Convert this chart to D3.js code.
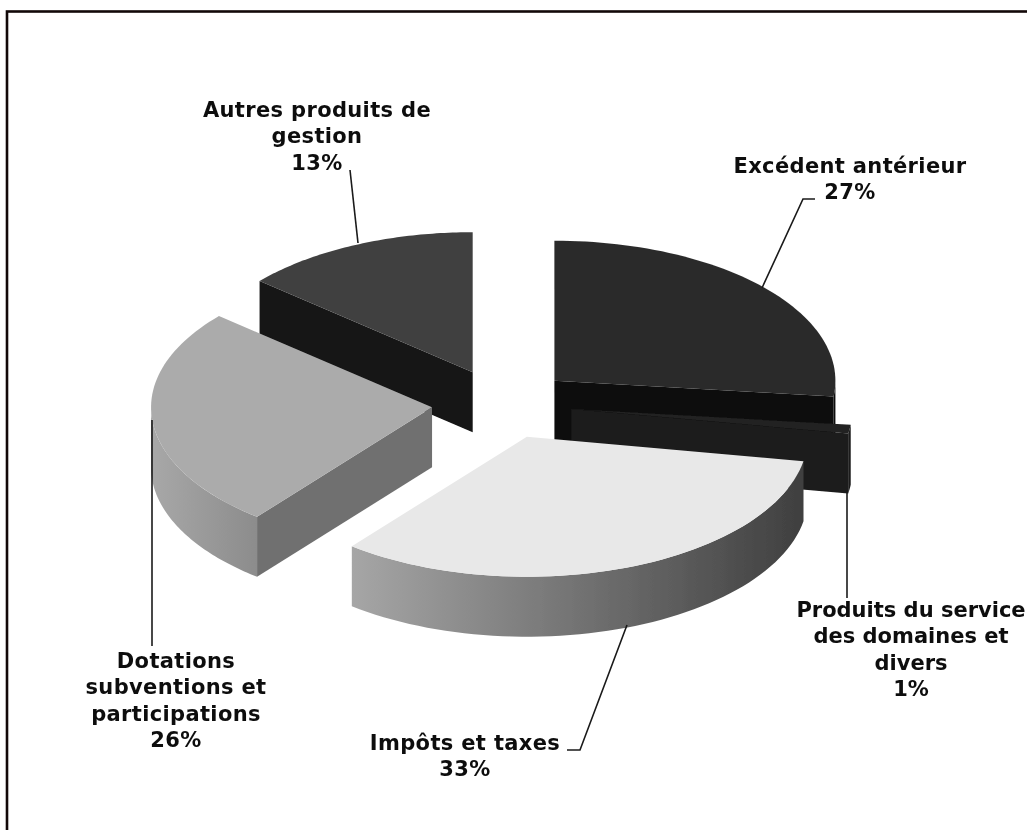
<!DOCTYPE html>
<html>
<head>
<meta charset="utf-8">
<style>
html,body{margin:0;padding:0;background:#fff;overflow:hidden}
svg{display:block}
text{font-family:"DejaVu Sans",sans-serif;font-weight:bold;font-size:21px;letter-spacing:0.35px;fill:#111;text-anchor:middle}
text.tight{letter-spacing:0}
</style>
<script src="https://cdn.jsdelivr.net/npm/d3@7"></script>
</head>
<body>
<svg id="chart" width="1027" height="830"></svg>
<script>
// Data, clockwise from 12 o'clock
const categories = ["Excédent antérieur", "Produits du service des domaines et divers", "Impôts et taxes", "Dotations subventions et participations", "Autres produits de gestion"];
const shares = [26.8, 1.0, 32.9, 25.6, 13.7];   // slice sizes
const percentLabels = ["27%", "1%", "33%", "26%", "13%"];
const labelLines = [
  ["Excédent antérieur"],
  ["Produits du service", "des domaines et", "divers"],
  ["Impôts et taxes"],
  ["Dotations", "subventions et", "participations"],
  ["Autres produits de", "gestion"]
];
const topColors = ["#2c2c2c", "#202020", "#e8e8e8", "#ababab", "#404040"];
const wallColors = ["#0d0d0d", "#1b1b1b", "#555555", "#707070", "#131313"];
const rimStops = [["#0d0d0d", "#0d0d0d"], ["#1b1b1b", "#1b1b1b"], ["#a6a6a6", "#3f3f3f"], ["#a8a8a8", "#8c8c8c"], ["#131313", "#131313"]];

// Layout
const cx = 502, cy = 404, rx = 281, ry = 140, depth = 60, explode = 0.25;
const labelPos = [[850, 173], [911, 617], [465, 750], [176, 668], [317, 117]];
const lineH = 26.3;
const leaders = [
  [[815, 199], [803, 199], [762, 288]],
  [[847, 490], [847, 598]],
  [[567, 750], [580, 750], [627, 625]],
  [[152, 420], [152, 646]],
  [[350, 170], [358, 243]]
];

const svg = d3.select("#chart");
const defs = svg.append("defs");
const soft = (id, sd) => defs.append("filter").attr("id", id).attr("x", "-5%").attr("y", "-5%").attr("width", "110%").attr("height", "110%")
  .append("feGaussianBlur").attr("stdDeviation", sd);
soft("soft", 0.7);
soft("softText", 0.35);

// Frame (only the top and left edges fall inside the crop)
svg.append("rect").attr("x", 7).attr("y", 11.5).attr("width", 1100).attr("height", 900)
  .attr("fill", "#fff").attr("stroke", "#120808").attr("stroke-width", 2.6);

const x = d3.scaleLinear().domain([-1, 1]).range([cx - rx, cx + rx]);
const y = d3.scaleLinear().domain([-1, 1]).range([cy - ry, cy + ry]);
const ptAt = (a, o, r = 1, dz = 0) => [
  x(explode * Math.sin(o) + r * Math.sin(a)),
  y(-explode * Math.cos(o) - r * Math.cos(a)) + dz
];
const line = d3.line();
const arcPts = (a0, a1, o, dz = 0) => d3.range(0, 61).map(i => ptAt(a0 + (a1 - a0) * i / 60, o, 1, dz));

const arcs = d3.pie().sort(null).value(d => d)(shares);
const drawOrder = [4, 0, 1, 3, 2];
const pieG = svg.append("g").attr("filter", "url(#soft)");

drawOrder.forEach(i => {
  const d = arcs[i], a0 = d.startAngle, a1 = d.endAngle, o = (a0 + a1) / 2;
  const g = pieG.append("g").attr("class", "slice");
  const wall = a => {
    g.append("path")
      .attr("d", line([ptAt(a, o, 0), ptAt(a, o), ptAt(a, o, 1, depth), ptAt(a, o, 0, depth)]) + "Z")
      .attr("fill", wallColors[i]);
  };
  if (Math.sin(a0) < 0) wall(a0);
  if (Math.sin(a1) > 0) wall(a1);
  const s0 = Math.max(a0, Math.PI / 2), s1 = Math.min(a1, Math.PI * 1.5);
  if (s1 > s0) {
    const id = "rim" + i, p0 = ptAt(s0, o), p1 = ptAt(s1, o);
    const grad = defs.append("linearGradient").attr("id", id).attr("gradientUnits", "userSpaceOnUse")
      .attr("x1", Math.max(p0[0], p1[0])).attr("x2", Math.min(p0[0], p1[0])).attr("y1", 0).attr("y2", 0);
    grad.append("stop").attr("offset", 0).attr("stop-color", rimStops[i][1]);
    grad.append("stop").attr("offset", 1).attr("stop-color", rimStops[i][0]);
    g.append("path")
      .attr("d", line(arcPts(s0, s1, o).concat(arcPts(s1, s0, o, depth))) + "Z")
      .attr("fill", `url(#${id})`);
  }
  g.append("path")
    .attr("d", line([ptAt(a0, o, 0)].concat(arcPts(a0, a1, o))) + "Z")
    .attr("fill", topColors[i]);
});

// Leader lines
svg.append("g").selectAll("path").data(leaders).join("path")
  .attr("d", d => line(d)).attr("fill", "none").attr("stroke", "#1a1a1a").attr("stroke-width", 1.6);

// Labels
const labelG = svg.append("g").attr("filter", "url(#softText)").selectAll("text").data(categories).join("text")
  .classed("tight", (d, i) => i === 1)
  .attr("x", (d, i) => labelPos[i][0]).attr("y", (d, i) => labelPos[i][1]);
labelG.selectAll("tspan")
  .data((d, i) => labelLines[i].concat(percentLabels[i]).map(t => ({t, i})))
  .join("tspan")
  .attr("x", d => labelPos[d.i][0])
  .attr("dy", (d, j) => j ? lineH : 0)
  .text(d => d.t);
</script>
</body>
</html>
